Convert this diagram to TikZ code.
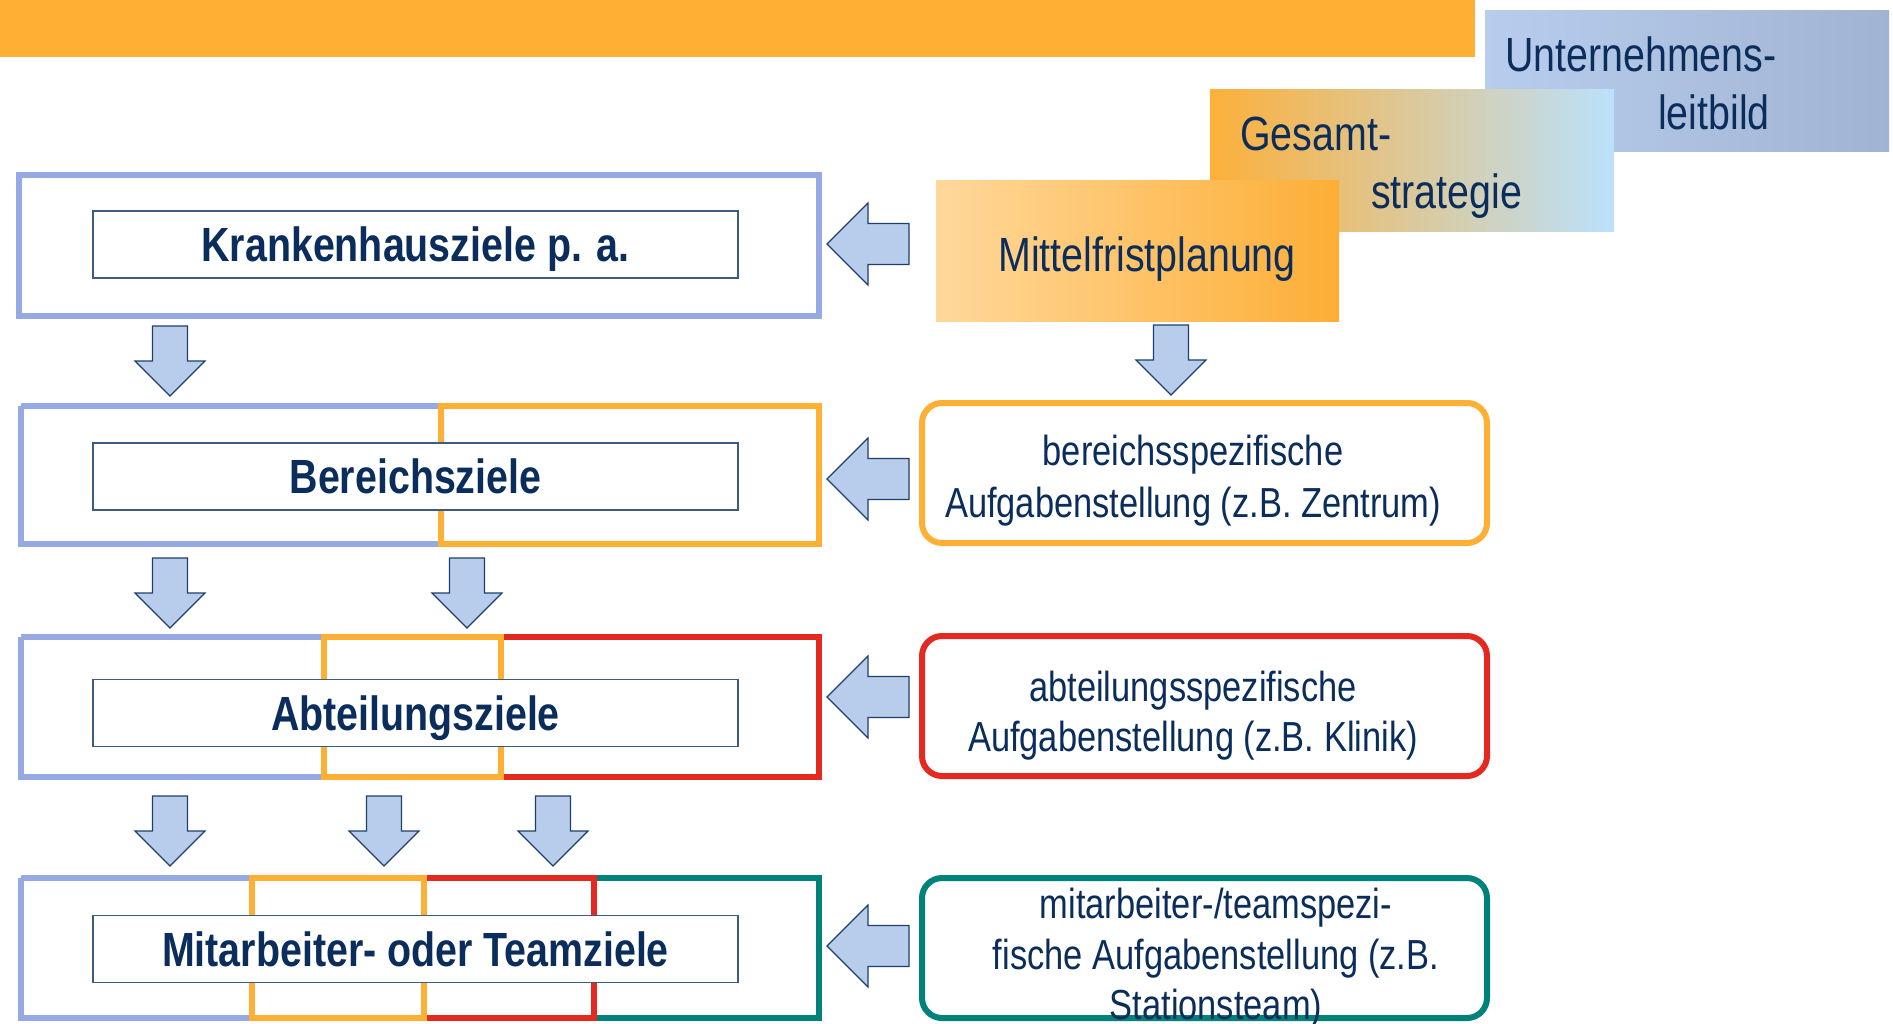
\documentclass[tikz,border=0pt]{standalone}
\usepackage{fontspec}
\setmainfont{Liberation Sans}[FakeStretch=0.82]
\definecolor{orangebar}{HTML}{FDB034}
\definecolor{peri}{HTML}{97A9E3}
\definecolor{redc}{HTML}{E42A20}
\definecolor{tealc}{HTML}{00827B}
\definecolor{navy}{HTML}{0B2D5B}
\definecolor{arrfill}{HTML}{B8CDEC}
\definecolor{arrline}{HTML}{1E3F6E}
\definecolor{slate}{HTML}{3D5C80}
\definecolor{ublueL}{HTML}{B8CDEE}
\definecolor{ublueR}{HTML}{A1B3D2}
\definecolor{gorange}{HTML}{FCB03A}
\definecolor{gblue}{HTML}{BBE1FC}
\definecolor{morangeL}{HTML}{FFD89A}
\definecolor{morangeR}{HTML}{FDAE36}
\tikzset{
  bigtxt/.style={text=navy, font=\fontsize{48}{58}\selectfont, inner sep=0pt},
  boldtxt/.style={text=navy, font=\fontsize{48}{58}\selectfont\bfseries, inner sep=0pt},
  smalltxt/.style={text=navy, font=\fontsize{42}{52}\selectfont, inner sep=0pt},
  seg/.style={line width=6pt},
  innerbox/.style={draw=slate, line width=1.5pt, fill=white, minimum width=645pt,
    minimum height=67pt, text height=34pt, text depth=0pt},
  rbox/.style={rounded corners=20pt, line width=6pt, fill=white},
  gradbox/.style={inner sep=0pt, anchor=north west},
  blockarr/.style={fill=arrfill, draw=arrline, line width=1.2pt, line join=miter},
  leftarr/.pic={\path[blockarr] (0,0) -- (41,-41) -- (41,-20.5) -- (82,-20.5)
      -- (82,20.5) -- (41,20.5) -- (41,41) -- cycle;},
  downarr/.pic={\path[blockarr] (0,0) -- (-35,-35) -- (-17.5,-35) -- (-17.5,-70)
      -- (17.5,-70) -- (17.5,-35) -- (35,-35) -- cycle;},
}
\begin{document}
\begin{tikzpicture}[x=1pt,y=-1pt]
\useasboundingbox (0,0) rectangle (1893,1023);
% top bar
\fill[orangebar] (0,0) rectangle (1475,57);
% cascade boxes
\node[gradbox, left color=ublueL, right color=ublueR, minimum width=404pt, minimum height=141pt] (ub) at (1485,10) {};
\node[bigtxt, anchor=base west] (ubt1) at (1505,71) {Unternehmens-};
\node[bigtxt, anchor=base east] (ubt2) at (1770,129) {leitbild};
\node[gradbox, left color=gorange, right color=gblue, minimum width=404pt, minimum height=142pt] (gb) at (1210,89) {};
\node[bigtxt, anchor=base west] (gbt1) at (1240,150) {Gesamt-};
\node[bigtxt, anchor=base west] (gbt2) at (1371,208) {strategie};
\node[gradbox, left color=morangeL, right color=morangeR, minimum width=403pt, minimum height=141pt] (mb) at (936,180) {};
\node[bigtxt, anchor=base] (mbt) at (1147,271) {Mittelfristplanung};
% level 1
\draw[seg, draw=peri] (19,175) rectangle (819,316);
\node[innerbox, boldtxt] (k1) at (415.5,244.5) {Krankenhausziele p. a.};
% level 2
\draw[seg, draw=peri] (21,406) -- (441,406) (441,544) -- (21,544) -- (21,406);
\draw[seg, draw=orangebar] (441,406) rectangle (819,544);
\node[innerbox, boldtxt] (k2) at (415.5,476.5) {Bereichsziele};
% level 3
\draw[seg, draw=peri] (21,637) -- (324,637) (324,777) -- (21,777) -- (21,637);
\draw[seg, draw=redc] (501,637) rectangle (819,777);
\draw[seg, draw=orangebar] (324,637) rectangle (501,777);
\node[innerbox, boldtxt] (k3) at (415.5,713) {Abteilungsziele};
% level 4
\draw[seg, draw=peri] (21,878) -- (252,878) (252,1018) -- (21,1018) -- (21,878);
\draw[seg, draw=tealc] (594,878) rectangle (819,1018);
\draw[seg, draw=redc] (424,878) rectangle (594,1018);
\draw[seg, draw=orangebar] (252,878) rectangle (424,1018);
\node[innerbox, boldtxt] (k4) at (415.5,949) {Mitarbeiter- oder Teamziele};
% right boxes
\draw[rbox, draw=orangebar] (922,403) rectangle (1487,543);
\node[smalltxt, anchor=base] (r1a) at (1193,465) {bereichsspezifische};
\node[smalltxt, anchor=base] (r1b) at (1193,517) {Aufgabenstellung (z.B. Zentrum)};
\draw[rbox, draw=redc] (922,636) rectangle (1487,776);
\node[smalltxt, anchor=base] (r2a) at (1193,701) {abteilungsspezifische};
\node[smalltxt, anchor=base] (r2b) at (1193,751) {Aufgabenstellung (z.B. Klinik)};
\draw[rbox, draw=tealc] (922,878) rectangle (1487,1018);
\node[smalltxt, anchor=base] (r3a) at (1216,918) {mitarbeiter-/teamspezi-};
\node[smalltxt, anchor=base] (r3b) at (1216,969) {fische Aufgabenstellung (z.B.};
\node[smalltxt, anchor=base] (r3c) at (1216,1019) {Stationsteam)};
% left-pointing block arrows
\pic at (827,244) {leftarr};
\pic at (827,479) {leftarr};
\pic at (827,697) {leftarr};
\pic at (827,946) {leftarr};
% down block arrows
\pic at (170,396) {downarr};
\pic at (1171,395) {downarr};
\pic at (170,628) {downarr};
\pic at (467,628) {downarr};
\pic at (170,866) {downarr};
\pic at (384,866) {downarr};
\pic at (553,866) {downarr};
\end{tikzpicture}
\end{document}
